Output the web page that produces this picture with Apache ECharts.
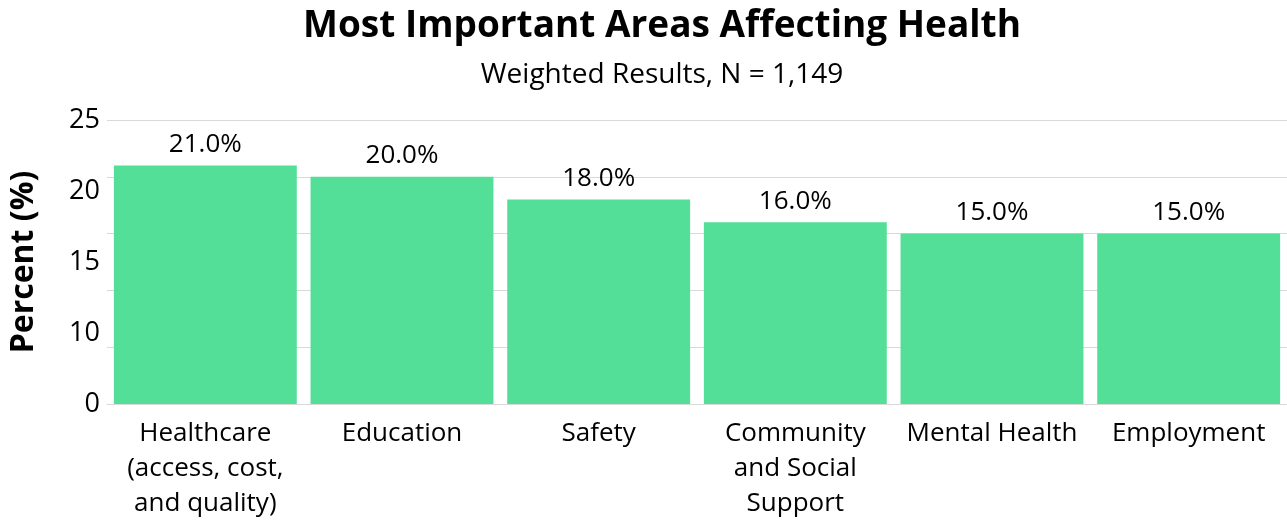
<!DOCTYPE html>
<html>
<head>
<meta charset="utf-8">
<script src="https://cdn.jsdelivr.net/npm/echarts@6/dist/echarts.min.js"></script>
<style>
    html, body { margin: 0; padding: 0; background: #fff; }
    #chart { width: 1287px; height: 525px; }
</style>
</head>
<body>
<div id="chart"></div>
<script>
var categories = [
    'Healthcare\n(access, cost,\nand quality)',
    'Education',
    'Safety',
    'Community\nand Social\nSupport',
    'Mental Health',
    'Employment'
];
var percentValues = [21.0, 20.0, 18.0, 16.0, 15.0, 15.0];
var yTickLabels = ['0', '10', '15', '20', '25'];

var fontFamily = '"Open Sans", "Noto Sans", sans-serif';

var chart = echarts.init(document.getElementById('chart'));

chart.setOption({
    animation: false,
    textStyle: { fontFamily: fontFamily, color: '#000' },
    title: {
        text: 'Most Important Areas Affecting Health',
        subtext: 'Weighted Results, N = 1,149',
        left: 657,
        textAlign: 'center',
        top: 3,
        itemGap: 16,
        textStyle: { fontFamily: fontFamily, fontSize: 37, fontWeight: 'bold', color: '#000' },
        subtextStyle: { fontFamily: fontFamily, fontSize: 28, color: '#000' }
    },
    grid: { left: 104, right: 0, top: 120, bottom: 121, containLabel: false },
    xAxis: {
        type: 'category',
        data: categories,
        axisLine: { lineStyle: { color: '#d9d9d9' } },
        axisTick: { show: false },
        axisLabel: {
            interval: 0,
            margin: 12,
            fontSize: 26,
            lineHeight: 35,
            color: '#000',
            fontFamily: fontFamily
        }
    },
    yAxis: [{
        type: 'value',
        min: 0,
        max: 25,
        interval: 5,
        axisLabel: { show: false },
        axisLine: { show: false },
        axisTick: { show: false },
        splitLine: { lineStyle: { color: '#d9d9d9', width: 1 } }
    }, {
        // tick labels as drawn in the original, evenly spread
        type: 'category',
        data: yTickLabels,
        boundaryGap: false,
        position: 'left',
        name: 'Percent (%)',
        nameLocation: 'middle',
        nameRotate: 90,
        nameGap: 67,
        nameTextStyle: { fontFamily: fontFamily, fontSize: 32, fontWeight: 'bold', color: '#000' },
        axisLine: { show: false },
        axisTick: { show: false },
        splitLine: { show: false },
        axisLabel: { margin: 7, fontSize: 27, color: '#000', fontFamily: fontFamily }
    }],
    series: [{
        type: 'bar',
        yAxisIndex: 0,
        data: percentValues,
        barCategoryGap: '7%',
        itemStyle: { color: '#53df97' },
        label: {
            show: true,
            position: 'top',
            distance: 8,
            fontSize: 26,
            color: '#000',
            fontFamily: fontFamily,
            formatter: function(p) {
                return p.value.toFixed(1) + '%';
            }
        }
    }]
});
</script>
</body>
</html>
